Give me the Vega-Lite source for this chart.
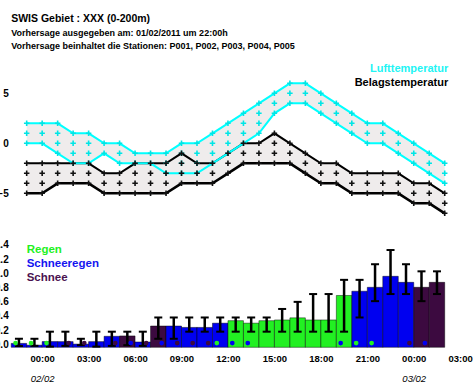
{
"$schema": "https://vega.github.io/schema/vega-lite/v6.json",
"width": 449, "height": 290,
"autosize": {"type": "none"},
"padding": {"left": 11.2, "top": 57.3, "right": 12.8, "bottom": 37.7},
"background": "white",
"title": {"text": "SWIS Gebiet : XXX (0-200m)", "subtitle": ["Vorhersage ausgegeben am: 01/02/2011 um 22:00h", "Vorhersage beinhaltet die Stationen: P001, P002, P003, P004, P005"], "anchor": "start", "frame": "group", "font": "Liberation Sans", "fontSize": 10.5, "fontWeight": "bold", "color": "#000", "subtitleFont": "Liberation Sans", "subtitleFontSize": 9, "subtitleFontWeight": "bold", "subtitleColor": "#000", "subtitleLineHeight": 13.5, "subtitlePadding": 4, "offset": 6},
"datasets": {
"temp": [
{"h":-1,"cu":2,"cl":0,"bu":-2,"bl":-5},{"h":0,"cu":2,"cl":0,"bu":-2,"bl":-5},{"h":1,"cu":2,"cl":-1,"bu":-2,"bl":-4},{"h":2,"cu":1,"cl":-2,"bu":-2,"bl":-4},{"h":3,"cu":1,"cl":-2,"bu":-2,"bl":-4},{"h":4,"cu":0,"cl":-1,"bu":-3,"bl":-5},{"h":5,"cu":0,"cl":-2,"bu":-3,"bl":-5},{"h":6,"cu":-1,"cl":-2,"bu":-2,"bl":-5},{"h":7,"cu":-1,"cl":-2,"bu":-2,"bl":-5},{"h":8,"cu":-1,"cl":-3,"bu":-2,"bl":-5},{"h":9,"cu":0,"cl":-3,"bu":-1,"bl":-4},{"h":10,"cu":0,"cl":-3,"bu":-2,"bl":-4},{"h":11,"cu":1,"cl":-2,"bu":-2,"bl":-4},{"h":12,"cu":2,"cl":-1,"bu":-1,"bl":-3},{"h":13,"cu":3,"cl":0,"bu":0,"bl":-2},{"h":14,"cu":4,"cl":1,"bu":0,"bl":-2},{"h":15,"cu":5,"cl":3,"bu":1,"bl":-2},{"h":16,"cu":6,"cl":4,"bu":0,"bl":-2},{"h":17,"cu":6,"cl":4,"bu":-1,"bl":-3},{"h":18,"cu":5,"cl":3,"bu":-2,"bl":-4},{"h":19,"cu":4,"cl":2,"bu":-2,"bl":-4},{"h":20,"cu":3,"cl":1,"bu":-3,"bl":-5},{"h":21,"cu":2,"cl":0,"bu":-3,"bl":-5},{"h":22,"cu":2,"cl":0,"bu":-3,"bl":-5},{"h":23,"cu":1,"cl":-1,"bu":-3,"bl":-5},{"h":24,"cu":0,"cl":-2,"bu":-4,"bl":-6},{"h":25,"cu":-1,"cl":-3,"bu":-4,"bl":-6},{"h":26,"cu":-2,"cl":-4,"bu":-5,"bl":-7}
],
"plus": [
{"h":-1,"s":"L","v":2},{"h":-1,"s":"L","v":1},{"h":-1,"s":"L","v":0},{"h":-1,"s":"B","v":-2},{"h":-1,"s":"B","v":-3},{"h":-1,"s":"B","v":-4},{"h":-1,"s":"B","v":-5},
{"h":0,"s":"L","v":2},{"h":0,"s":"L","v":1},{"h":0,"s":"L","v":0},{"h":0,"s":"B","v":-2},{"h":0,"s":"B","v":-3},{"h":0,"s":"B","v":-4},{"h":0,"s":"B","v":-5},
{"h":1,"s":"L","v":2},{"h":1,"s":"L","v":1},{"h":1,"s":"L","v":0},{"h":1,"s":"L","v":-1},{"h":1,"s":"B","v":-2},{"h":1,"s":"B","v":-3},{"h":1,"s":"B","v":-4},
{"h":2,"s":"L","v":1},{"h":2,"s":"L","v":0},{"h":2,"s":"L","v":-1},{"h":2,"s":"L","v":-2},{"h":2,"s":"B","v":-2},{"h":2,"s":"B","v":-3},{"h":2,"s":"B","v":-4},
{"h":3,"s":"L","v":1},{"h":3,"s":"L","v":0},{"h":3,"s":"L","v":-1},{"h":3,"s":"L","v":-2},{"h":3,"s":"B","v":-2},{"h":3,"s":"B","v":-3},{"h":3,"s":"B","v":-4},
{"h":4,"s":"L","v":0},{"h":4,"s":"L","v":-1},{"h":4,"s":"B","v":-3},{"h":4,"s":"B","v":-4},{"h":4,"s":"B","v":-5},
{"h":5,"s":"L","v":0},{"h":5,"s":"L","v":-1},{"h":5,"s":"L","v":-2},{"h":5,"s":"B","v":-3},{"h":5,"s":"B","v":-4},{"h":5,"s":"B","v":-5},
{"h":6,"s":"L","v":-1},{"h":6,"s":"L","v":-2},{"h":6,"s":"B","v":-2},{"h":6,"s":"B","v":-3},{"h":6,"s":"B","v":-4},{"h":6,"s":"B","v":-5},
{"h":7,"s":"L","v":-1},{"h":7,"s":"L","v":-2},{"h":7,"s":"B","v":-2},{"h":7,"s":"B","v":-3},{"h":7,"s":"B","v":-4},{"h":7,"s":"B","v":-5},
{"h":8,"s":"L","v":-1},{"h":8,"s":"L","v":-2},{"h":8,"s":"L","v":-3},{"h":8,"s":"B","v":-2},{"h":8,"s":"B","v":-3},{"h":8,"s":"B","v":-4},{"h":8,"s":"B","v":-5},
{"h":9,"s":"L","v":0},{"h":9,"s":"L","v":-1},{"h":9,"s":"L","v":-2},{"h":9,"s":"L","v":-3},{"h":9,"s":"B","v":-1},{"h":9,"s":"B","v":-2},{"h":9,"s":"B","v":-3},{"h":9,"s":"B","v":-4},
{"h":10,"s":"L","v":0},{"h":10,"s":"L","v":-1},{"h":10,"s":"L","v":-2},{"h":10,"s":"L","v":-3},{"h":10,"s":"B","v":-2},{"h":10,"s":"B","v":-3},{"h":10,"s":"B","v":-4},
{"h":11,"s":"L","v":1},{"h":11,"s":"L","v":0},{"h":11,"s":"L","v":-1},{"h":11,"s":"L","v":-2},{"h":11,"s":"B","v":-2},{"h":11,"s":"B","v":-3},{"h":11,"s":"B","v":-4},
{"h":12,"s":"L","v":2},{"h":12,"s":"L","v":1},{"h":12,"s":"L","v":0},{"h":12,"s":"L","v":-1},{"h":12,"s":"B","v":-1},{"h":12,"s":"B","v":-2},{"h":12,"s":"B","v":-3},
{"h":13,"s":"L","v":3},{"h":13,"s":"L","v":2},{"h":13,"s":"L","v":1},{"h":13,"s":"L","v":0},{"h":13,"s":"B","v":0},{"h":13,"s":"B","v":-1},{"h":13,"s":"B","v":-2},
{"h":14,"s":"L","v":4},{"h":14,"s":"L","v":3},{"h":14,"s":"L","v":2},{"h":14,"s":"L","v":1},{"h":14,"s":"B","v":0},{"h":14,"s":"B","v":-1},{"h":14,"s":"B","v":-2},
{"h":15,"s":"L","v":5},{"h":15,"s":"L","v":4},{"h":15,"s":"L","v":3},{"h":15,"s":"B","v":1},{"h":15,"s":"B","v":0},{"h":15,"s":"B","v":-1},{"h":15,"s":"B","v":-2},
{"h":16,"s":"L","v":6},{"h":16,"s":"L","v":5},{"h":16,"s":"L","v":4},{"h":16,"s":"B","v":0},{"h":16,"s":"B","v":-1},{"h":16,"s":"B","v":-2},
{"h":17,"s":"L","v":6},{"h":17,"s":"L","v":5},{"h":17,"s":"L","v":4},{"h":17,"s":"B","v":-1},{"h":17,"s":"B","v":-2},{"h":17,"s":"B","v":-3},
{"h":18,"s":"L","v":5},{"h":18,"s":"L","v":4},{"h":18,"s":"L","v":3},{"h":18,"s":"B","v":-2},{"h":18,"s":"B","v":-3},{"h":18,"s":"B","v":-4},
{"h":19,"s":"L","v":4},{"h":19,"s":"L","v":3},{"h":19,"s":"L","v":2},{"h":19,"s":"B","v":-2},{"h":19,"s":"B","v":-3},{"h":19,"s":"B","v":-4},
{"h":20,"s":"L","v":3},{"h":20,"s":"L","v":2},{"h":20,"s":"L","v":1},{"h":20,"s":"B","v":-3},{"h":20,"s":"B","v":-4},{"h":20,"s":"B","v":-5},
{"h":21,"s":"L","v":2},{"h":21,"s":"L","v":1},{"h":21,"s":"L","v":0},{"h":21,"s":"B","v":-3},{"h":21,"s":"B","v":-4},{"h":21,"s":"B","v":-5},
{"h":22,"s":"L","v":2},{"h":22,"s":"L","v":1},{"h":22,"s":"L","v":0},{"h":22,"s":"B","v":-3},{"h":22,"s":"B","v":-4},{"h":22,"s":"B","v":-5},
{"h":23,"s":"L","v":1},{"h":23,"s":"L","v":0},{"h":23,"s":"L","v":-1},{"h":23,"s":"B","v":-3},{"h":23,"s":"B","v":-4},{"h":23,"s":"B","v":-5},
{"h":24,"s":"L","v":0},{"h":24,"s":"L","v":-1},{"h":24,"s":"L","v":-2},{"h":24,"s":"B","v":-4},{"h":24,"s":"B","v":-5},{"h":24,"s":"B","v":-6},
{"h":25,"s":"L","v":-1},{"h":25,"s":"L","v":-2},{"h":25,"s":"L","v":-3},{"h":25,"s":"B","v":-4},{"h":25,"s":"B","v":-5},{"h":25,"s":"B","v":-6},
{"h":26,"s":"L","v":-2},{"h":26,"s":"L","v":-3},{"h":26,"s":"L","v":-4},{"h":26,"s":"B","v":-5},{"h":26,"s":"B","v":-6},{"h":26,"s":"B","v":-7}
],
"bars": [
{"h0":-2,"h1":-1,"hm":-1.5,"typ":"Schneeregen","mm":0.055,"lo":0.02,"hi":0.12},
{"h0":-1,"h1":0,"hm":-0.5,"typ":"Schneeregen","mm":0.03,"lo":0.02,"hi":0.12},
{"h0":0,"h1":1,"hm":0.5,"typ":"Schneeregen","mm":0.08,"lo":0.01,"hi":0.22},
{"h0":1,"h1":2,"hm":1.5,"typ":"Schneeregen","mm":0.08,"lo":0.02,"hi":0.22},
{"h0":2,"h1":3,"hm":2.5,"typ":"Schneeregen","mm":0.045,"lo":0.03,"hi":0.12},
{"h0":3,"h1":4,"hm":3.5,"typ":"Schneeregen","mm":0.08,"lo":0.01,"hi":0.22},
{"h0":4,"h1":5,"hm":4.5,"typ":"Schneeregen","mm":0.155,"lo":0.02,"hi":0.22},
{"h0":5,"h1":6,"hm":5.5,"typ":"Schnee","mm":0.16,"lo":0.03,"hi":0.22},
{"h0":6,"h1":7,"hm":6.5,"typ":"Schneeregen","mm":0.075,"lo":0.02,"hi":0.22},
{"h0":7,"h1":8,"hm":7.5,"typ":"Schnee","mm":0.30,"lo":0.12,"hi":0.42},
{"h0":8,"h1":9,"hm":8.5,"typ":"Schneeregen","mm":0.30,"lo":0.12,"hi":0.42},
{"h0":9,"h1":10,"hm":9.5,"typ":"Schneeregen","mm":0.28,"lo":0.22,"hi":0.42},
{"h0":10,"h1":11,"hm":10.5,"typ":"Schneeregen","mm":0.28,"lo":0.22,"hi":0.42},
{"h0":11,"h1":12,"hm":11.5,"typ":"Schneeregen","mm":0.34,"lo":0.22,"hi":0.42},
{"h0":12,"h1":13,"hm":12.5,"typ":"Regen","mm":0.375,"lo":0.22,"hi":0.42},
{"h0":13,"h1":14,"hm":13.5,"typ":"Regen","mm":0.34,"lo":0.22,"hi":0.42},
{"h0":14,"h1":15,"hm":14.5,"typ":"Regen","mm":0.375,"lo":0.22,"hi":0.42},
{"h0":15,"h1":16,"hm":15.5,"typ":"Regen","mm":0.385,"lo":0.22,"hi":0.54},
{"h0":16,"h1":17,"hm":16.5,"typ":"Regen","mm":0.415,"lo":0.22,"hi":0.64},
{"h0":17,"h1":18,"hm":17.5,"typ":"Regen","mm":0.385,"lo":0.22,"hi":0.75},
{"h0":18,"h1":19,"hm":18.5,"typ":"Regen","mm":0.385,"lo":0.22,"hi":0.75},
{"h0":19,"h1":20,"hm":19.5,"typ":"Regen","mm":0.73,"lo":0.22,"hi":0.95},
{"h0":20,"h1":21,"hm":20.5,"typ":"Schneeregen","mm":0.79,"lo":0.42,"hi":0.95},
{"h0":21,"h1":22,"hm":21.5,"typ":"Schneeregen","mm":0.845,"lo":0.65,"hi":1.17},
{"h0":22,"h1":23,"hm":22.5,"typ":"Schneeregen","mm":1.0,"lo":0.75,"hi":1.37},
{"h0":23,"h1":24,"hm":23.5,"typ":"Schneeregen","mm":0.915,"lo":0.75,"hi":1.17},
{"h0":24,"h1":25,"hm":24.5,"typ":"Schnee","mm":0.845,"lo":0.65,"hi":1.07},
{"h0":25,"h1":26,"hm":25.5,"typ":"Schnee","mm":0.915,"lo":0.75,"hi":1.07}
],
"dots": [
{"h":-1.72,"typ":"Regen"},{"h":-0.72,"typ":"Regen"},{"h":0.28,"typ":"Regen"},{"h":1.72,"typ":"Schnee"},{"h":2.72,"typ":"Schnee"},{"h":4.72,"typ":"Schnee"},{"h":5.72,"typ":"Schneeregen"},{"h":6.72,"typ":"Schnee"},{"h":7.72,"typ":"Schneeregen"},{"h":8.72,"typ":"Schnee"},{"h":9.72,"typ":"Schnee"},{"h":10.72,"typ":"Schnee"},{"h":11.28,"typ":"Regen"},{"h":12.28,"typ":"Schneeregen"},{"h":13.28,"typ":"Schneeregen"},{"h":19.28,"typ":"Schneeregen"},{"h":20.28,"typ":"Regen"},{"h":21.28,"typ":"Regen"},{"h":23.72,"typ":"Schnee"},{"h":24.72,"typ":"Schneeregen"}
]
},
"layer": [
{
"layer": [
{"data": {"name": "temp"}, "mark": {"type": "area", "color": "#efecec"},
 "encoding": {
  "x": {"field": "h", "type": "quantitative", "title": null, "scale": {"domain": [-2, 27], "nice": false, "zero": false},
        "axis": {"orient": "bottom", "values": [0, 24], "labelExpr": "datum.value == 0 ? '02/02' : '03/02'", "labelFontStyle": "italic", "labelFontWeight": "normal", "labelFontSize": 9.5, "labelPadding": 26, "labelFlush": false, "labelOverlap": false}},
  "y": {"field": "cl", "type": "quantitative", "title": null, "scale": {"domain": [-8.6, 8.6], "range": [172, 0], "nice": false, "zero": false},
        "axis": {"orient": "left", "values": [-5, 0, 5], "labelFontSize": 10, "labelPadding": 3, "labelBaseline": "middle"}},
  "y2": {"field": "cu"}}},
{"data": {"name": "temp"}, "mark": {"type": "area", "color": "#efecec"},
 "encoding": {
  "x": {"field": "h", "type": "quantitative", "title": null},
  "y": {"field": "bl", "type": "quantitative", "title": null},
  "y2": {"field": "bu"}}},
{"data": {"name": "temp"}, "mark": {"type": "line", "strokeWidth": 2},
 "encoding": {
  "x": {"field": "h", "type": "quantitative", "title": null},
  "y": {"field": "bu", "type": "quantitative", "title": null},
  "color": {"datum": "Belagstemperatur", "type": "nominal", "scale": {"domain": ["Lufttemperatur", "Belagstemperatur"], "range": ["#00ffff", "#000000"]},
   "legend": {"orient": "none", "legendX": 426, "legendY": 6, "title": null, "symbolOpacity": 0, "symbolSize": 0, "symbolStrokeWidth": 0, "labelAlign": "right", "labelFont": "Liberation Sans", "labelFontSize": 11, "labelFontWeight": "bold", "labelOffset": 0, "rowPadding": 2, "padding": 0,
     "encode": {"labels": {"update": {"fill": {"signal": "datum.value === 'Lufttemperatur' ? '#22f4f4' : '#000000'"}}}}}}}},
{"data": {"name": "temp"}, "mark": {"type": "line", "strokeWidth": 2.6},
 "encoding": {
  "x": {"field": "h", "type": "quantitative", "title": null},
  "y": {"field": "bl", "type": "quantitative", "title": null},
  "color": {"datum": "Belagstemperatur", "type": "nominal"}}},
{"data": {"name": "temp"}, "mark": {"type": "line", "strokeWidth": 2},
 "encoding": {
  "x": {"field": "h", "type": "quantitative", "title": null},
  "y": {"field": "cu", "type": "quantitative", "title": null},
  "color": {"datum": "Lufttemperatur", "type": "nominal"}}},
{"data": {"name": "temp"}, "mark": {"type": "line", "strokeWidth": 2},
 "encoding": {
  "x": {"field": "h", "type": "quantitative", "title": null},
  "y": {"field": "cl", "type": "quantitative", "title": null},
  "color": {"datum": "Lufttemperatur", "type": "nominal"}}},
{"data": {"name": "plus"}, "mark": {"type": "point", "shape": "M-1,0H1M0,-1V1", "filled": false, "size": 30, "strokeWidth": 1.6, "opacity": 1},
 "encoding": {
  "x": {"field": "h", "type": "quantitative", "title": null},
  "y": {"field": "v", "type": "quantitative", "title": null},
  "stroke": {"field": "s", "type": "nominal", "scale": {"domain": ["L", "B"], "range": ["#00e5e5", "#111111"]}, "legend": null}}}
]
},
{
"layer": [
{"data": {"name": "bars"}, "mark": {"type": "rect", "stroke": "#000000", "strokeWidth": 1, "strokeOpacity": 0.45},
 "encoding": {
  "x": {"field": "h0", "type": "quantitative", "title": null, "scale": {"domain": [-2, 27], "nice": false, "zero": false},
        "axis": {"orient": "bottom", "values": [0, 3, 6, 9, 12, 15, 18, 21, 24, 27], "labelExpr": "timeFormat(datetime(2011, 1, 2, datum.value), '%H:%M')", "labelFontSize": 9.5, "labelPadding": 6, "labelFlush": false, "labelOverlap": false}},
  "x2": {"field": "h1"},
  "y": {"field": "mm", "type": "quantitative", "title": null, "scale": {"domain": [0, 1.6], "range": [290, 176.4], "nice": false, "zero": true},
        "axis": {"orient": "left", "values": [0, 0.2, 0.4, 0.6, 0.8, 1.0, 1.2, 1.4], "format": ".1f", "labelFontSize": 10, "labelPadding": 3, "labelBaseline": "alphabetic"}},
  "y2": {"datum": 0},
  "color": {"field": "typ", "type": "nominal", "scale": {"domain": ["Regen", "Schneeregen", "Schnee"], "range": ["#22f022", "#0000f0", "#3c0a40"]},
   "legend": {"orient": "none", "legendX": 4, "legendY": 187, "title": null, "symbolOpacity": 0, "symbolSize": 0, "symbolStrokeWidth": 0, "labelFont": "Liberation Sans", "labelFontSize": 11.5, "labelFontWeight": "bold", "labelOffset": 0, "rowPadding": 1, "padding": 0,
     "labelColor": {"expr": "datum.value === 'Regen' ? '#22f022' : datum.value === 'Schneeregen' ? '#1414f0' : '#4a1250'"},
     "encode": {"labels": {"update": {"fill": {"signal": "datum.value === 'Regen' ? '#22f022' : datum.value === 'Schneeregen' ? '#1414f0' : '#4a1250'"}}}}}}}},
{"data": {"name": "bars"}, "mark": {"type": "rule", "color": "#000000", "strokeWidth": 2.5},
 "encoding": {
  "x": {"field": "hm", "type": "quantitative", "title": null},
  "y": {"field": "lo", "type": "quantitative", "title": null},
  "y2": {"field": "hi"}}},
{"data": {"name": "bars"}, "mark": {"type": "tick", "orient": "horizontal", "size": 8, "thickness": 2, "color": "#000000", "opacity": 1},
 "encoding": {
  "x": {"field": "hm", "type": "quantitative", "title": null},
  "y": {"field": "lo", "type": "quantitative", "title": null}}},
{"data": {"name": "bars"}, "mark": {"type": "tick", "orient": "horizontal", "size": 8, "thickness": 2, "color": "#000000", "opacity": 1},
 "encoding": {
  "x": {"field": "hm", "type": "quantitative", "title": null},
  "y": {"field": "hi", "type": "quantitative", "title": null}}},
{"data": {"name": "dots"}, "mark": {"type": "point", "filled": true, "size": 22, "opacity": 1},
 "encoding": {
  "x": {"field": "h", "type": "quantitative", "title": null},
  "y": {"datum": 0.06, "type": "quantitative"},
  "color": {"field": "typ", "type": "nominal", "legend": null}}}
]
}
],
"resolve": {"scale": {"y": "independent", "color": "independent"}, "axis": {"x": "independent", "y": "independent"}, "legend": {"color": "independent"}},
"config": {"view": {"stroke": null}, "axis": {"grid": false, "domain": false, "ticks": false, "labelFont": "Liberation Sans", "labelFontWeight": "bold", "labelColor": "#000000"}}
}
